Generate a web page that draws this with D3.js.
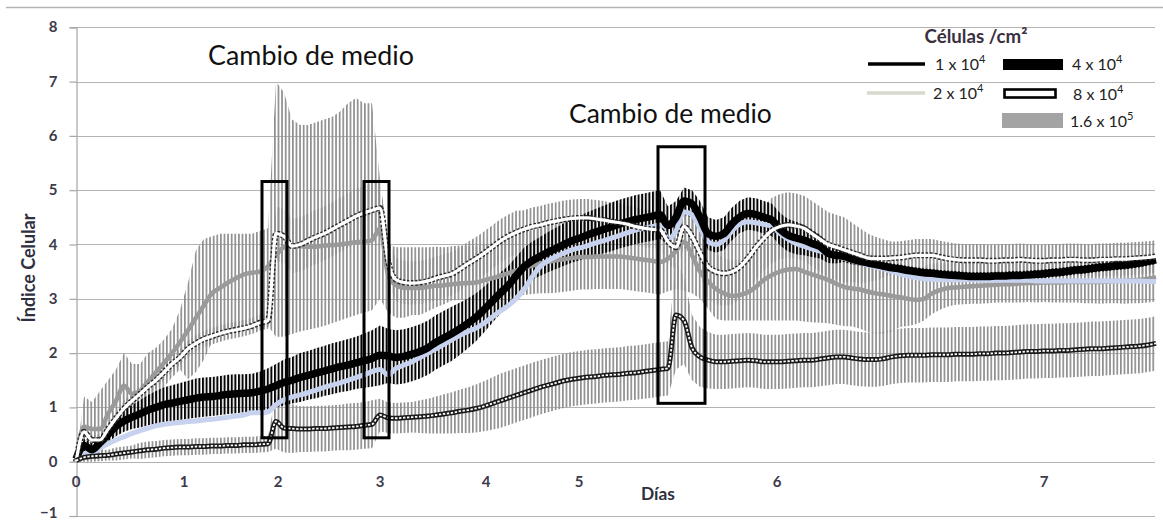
<!DOCTYPE html>
<html><head><meta charset="utf-8">
<script src="https://cdn.jsdelivr.net/npm/d3@7"></script>
<style>body{margin:0;background:#fff} svg{display:block}</style>
</head><body><svg id="c" width="1163" height="522"></svg>
<script>
// ---------- data (measurement index 0..135, equally spaced like an Excel category axis) ----------
const dayTickLabels = ["0","1","2","3","4","5","6","7"];
const dayTickIndex  = [0, 13.5, 25.25, 38, 51.25, 62.875, 87.625, 121];
const yTicks = [-1,0,1,2,3,4,5,6,7,8];

// 1.6 x 10^5 (grey) mean, upper and lower error
const s160 = [0.0,0.65,0.6,0.6,0.88,1.12,1.4,1.25,1.3,1.48,
 1.65,1.82,2.0,2.2,2.42,2.65,2.88,3.1,3.2,3.3,
 3.38,3.45,3.48,3.5,3.6,3.8,3.95,3.97,3.97,3.96,
 3.96,3.98,3.99,4.0,4.02,4.04,4.05,4.08,4.3,3.45,
 3.25,3.2,3.2,3.2,3.22,3.24,3.25,3.27,3.28,3.29,
 3.3,3.34,3.38,3.42,3.47,3.52,3.57,3.61,3.65,3.68,
 3.71,3.73,3.75,3.77,3.77,3.78,3.78,3.78,3.78,3.76,
 3.74,3.72,3.7,3.68,3.74,3.88,4.05,3.8,3.5,3.32,
 3.18,3.1,3.05,3.07,3.12,3.22,3.35,3.44,3.5,3.54,
 3.55,3.5,3.45,3.4,3.35,3.28,3.22,3.19,3.17,3.13,
 3.1,3.08,3.05,3.03,3.0,2.98,3.0,3.1,3.16,3.2,
 3.21,3.22,3.23,3.24,3.25,3.26,3.27,3.27,3.28,3.29,
 3.29,3.3,3.3,3.3,3.31,3.31,3.31,3.31,3.31,3.32,
 3.33,3.33,3.34,3.35,3.37,3.4];
const s160Hi = [0,0.55,0.5,0.7,0.62,0.58,0.6,0.55,0.5,0.52,
 0.45,0.43,0.45,0.6,0.88,1.25,1.22,1.05,1.0,0.9,
 0.82,0.75,0.72,0.75,0.7,3.2,2.85,2.33,2.23,2.24,
 2.29,2.32,2.36,2.45,2.58,2.66,2.55,2.52,0.9,0.55,
 0.7,0.75,0.75,0.75,0.73,0.72,0.7,0.7,0.7,0.68,
 0.67,0.66,0.65,0.65,0.65,0.65,0.65,0.65,0.65,0.65,
 0.65,0.65,0.65,0.65,0.65,0.65,0.65,0.65,0.65,0.65,
 0.65,0.65,0.65,0.65,0.7,0.8,0.8,0.8,0.7,0.65,
 0.65,0.65,0.65,0.65,0.65,0.65,0.65,0.65,0.65,0.65,
 0.65,0.65,0.65,0.65,0.65,0.7,0.7,0.7,0.7,0.7,
 0.7,0.7,0.7,0.65,0.6,0.6,0.6,0.55,0.5,0.45,
 0.45,0.45,0.45,0.45,0.45,0.45,0.45,0.45,0.45,0.45,
 0.45,0.45,0.45,0.45,0.45,0.45,0.45,0.45,0.45,0.45,
 0.45,0.45,0.45,0.45,0.45,0.45];
const s160Lo = [0,0.55,0.5,0.5,0.5,0.5,0.55,0.5,0.45,0.45,
 0.45,0.45,0.45,0.5,0.9,1.0,1.0,0.9,0.85,0.9,
 0.95,1.0,1.05,1.05,1.1,1.5,1.65,1.62,1.57,1.53,
 1.5,1.48,1.44,1.4,1.37,1.34,1.3,1.29,1.3,0.7,
 0.6,0.55,0.5,0.5,0.45,0.4,0.35,0.3,0.3,0.3,
 0.3,0.32,0.35,0.38,0.42,0.46,0.5,0.52,0.55,0.58,
 0.6,0.6,0.6,0.6,0.6,0.6,0.6,0.6,0.6,0.6,
 0.6,0.6,0.6,0.6,0.6,0.7,0.9,0.7,0.5,0.5,
 0.55,0.5,0.45,0.47,0.52,0.62,0.75,0.84,0.9,0.94,
 0.95,0.92,0.88,0.84,0.8,0.76,0.72,0.7,0.72,0.74,
 0.75,0.72,0.65,0.55,0.5,0.45,0.4,0.38,0.36,0.34,
 0.32,0.32,0.32,0.33,0.33,0.33,0.34,0.34,0.35,0.35,
 0.36,0.36,0.37,0.37,0.38,0.38,0.39,0.39,0.4,0.4,
 0.41,0.42,0.42,0.43,0.44,0.45];

// 4 x 10^4 (thick black)
const s40 = [0.05,0.3,0.22,0.35,0.5,0.65,0.75,0.82,0.88,0.95,
 1.0,1.05,1.08,1.11,1.14,1.17,1.19,1.2,1.22,1.24,
 1.25,1.26,1.27,1.3,1.34,1.4,1.46,1.5,1.55,1.59,
 1.63,1.67,1.71,1.75,1.78,1.82,1.86,1.9,1.96,1.95,
 1.92,1.94,1.98,2.03,2.1,2.2,2.28,2.36,2.45,2.55,
 2.66,2.8,2.95,3.1,3.24,3.42,3.59,3.7,3.78,3.86,
 3.93,4.0,4.07,4.12,4.18,4.23,4.28,4.33,4.38,4.42,
 4.46,4.49,4.52,4.55,4.35,4.5,4.8,4.75,4.5,4.2,
 4.15,4.2,4.38,4.51,4.57,4.55,4.5,4.45,4.28,4.17,
 4.12,4.08,4.02,3.96,3.84,3.8,3.78,3.73,3.69,3.66,
 3.63,3.6,3.57,3.55,3.52,3.5,3.48,3.47,3.45,3.44,
 3.43,3.42,3.41,3.41,3.41,3.42,3.42,3.43,3.43,3.44,
 3.45,3.46,3.48,3.49,3.51,3.53,3.54,3.56,3.58,3.59,
 3.61,3.62,3.64,3.66,3.69,3.72];
const s40Err = [0,0.12,0.12,0.12,0.15,0.18,0.2,0.22,0.25,0.28,
 0.3,0.32,0.33,0.34,0.35,0.36,0.36,0.36,0.36,0.36,
 0.36,0.35,0.35,0.36,0.38,0.4,0.42,0.43,0.45,0.45,
 0.46,0.46,0.47,0.47,0.48,0.48,0.5,0.52,0.55,0.5,
 0.5,0.5,0.5,0.5,0.5,0.5,0.5,0.5,0.48,0.46,
 0.44,0.42,0.4,0.38,0.36,0.35,0.35,0.35,0.36,0.37,
 0.38,0.39,0.4,0.41,0.42,0.43,0.44,0.45,0.45,0.45,
 0.45,0.45,0.45,0.45,0.35,0.3,0.25,0.25,0.3,0.3,
 0.3,0.3,0.3,0.3,0.3,0.3,0.3,0.3,0.3,0.3,
 0.3,0.28,0.25,0.22,0.18,0.15,0.1,0.1,0.08,0.08,
 0.08,0.08,0.08,0.08,0.08,0.08,0.08,0.08,0.08,0.08,
 0.08,0.08,0.08,0.08,0.08,0.08,0.08,0.08,0.08,0.08,
 0.08,0.08,0.08,0.08,0.08,0.08,0.08,0.08,0.08,0.08,
 0.08,0.08,0.08,0.08,0.08,0.08];

// 8 x 10^4 (white with dark outline)
const s80 = [0.0,0.55,0.4,0.4,0.6,0.8,0.98,1.12,1.25,1.38,
 1.5,1.65,1.8,1.92,2.08,2.18,2.26,2.31,2.36,2.4,
 2.43,2.46,2.5,2.56,2.6,4.2,4.15,3.97,4.0,4.07,
 4.14,4.2,4.28,4.36,4.44,4.52,4.58,4.63,4.67,3.7,
 3.35,3.3,3.29,3.3,3.33,3.38,3.42,3.46,3.55,3.65,
 3.74,3.84,3.95,4.06,4.15,4.22,4.28,4.33,4.36,4.4,
 4.43,4.46,4.48,4.49,4.49,4.47,4.45,4.42,4.4,4.37,
 4.33,4.3,4.28,4.27,4.05,3.95,4.33,4.15,3.85,3.59,
 3.5,3.47,3.5,3.59,3.75,3.95,4.12,4.26,4.33,4.36,
 4.34,4.3,4.2,4.1,4.0,3.95,3.9,3.85,3.8,3.75,
 3.74,3.74,3.75,3.76,3.78,3.8,3.8,3.8,3.77,3.74,
 3.72,3.71,3.71,3.71,3.7,3.7,3.71,3.71,3.72,3.71,
 3.7,3.7,3.71,3.71,3.72,3.72,3.71,3.71,3.72,3.72,
 3.73,3.73,3.74,3.75,3.76,3.78];
const s80Err = [0,0.1,0.1,0.1,0.12,0.12,0.15,0.15,0.15,0.15,
 0.15,0.15,0.15,0.15,0.15,0.15,0.15,0.15,0.15,0.15,
 0.15,0.15,0.15,0.15,0.15,0.5,0.5,0.5,0.5,0.5,
 0.5,0.5,0.5,0.5,0.5,0.5,0.5,0.5,0.5,0.4,
 0.4,0.4,0.4,0.4,0.4,0.4,0.4,0.4,0.4,0.4,
 0.4,0.4,0.4,0.4,0.4,0.4,0.35,0.35,0.35,0.35,
 0.35,0.35,0.35,0.35,0.35,0.35,0.35,0.35,0.35,0.35,
 0.35,0.35,0.35,0.35,0.4,0.4,0.4,0.4,0.4,0.6,
 0.6,0.6,0.6,0.6,0.6,0.6,0.6,0.6,0.6,0.6,
 0.6,0.6,0.6,0.6,0.6,0.6,0.6,0.55,0.5,0.45,
 0.4,0.35,0.3,0.3,0.3,0.3,0.3,0.3,0.3,0.3,
 0.3,0.3,0.3,0.3,0.3,0.3,0.3,0.3,0.3,0.3,
 0.3,0.3,0.3,0.3,0.3,0.3,0.3,0.3,0.3,0.3,
 0.3,0.3,0.3,0.3,0.3,0.3];

// 2 x 10^4 (light line)
const s20 = [0.0,0.15,0.15,0.25,0.33,0.4,0.46,0.52,0.57,0.62,
 0.66,0.69,0.71,0.72,0.74,0.75,0.77,0.78,0.8,0.82,
 0.84,0.86,0.9,0.9,0.92,1.05,1.14,1.19,1.23,1.27,
 1.32,1.37,1.41,1.45,1.5,1.55,1.6,1.66,1.7,1.6,
 1.72,1.78,1.84,1.92,2.0,2.08,2.16,2.25,2.33,2.4,
 2.46,2.55,2.66,2.77,2.87,3.0,3.17,3.4,3.59,3.7,
 3.78,3.84,3.9,3.94,3.98,4.03,4.07,4.12,4.17,4.22,
 4.27,4.3,4.33,4.36,4.1,4.25,4.6,4.55,4.3,4.05,
 4.0,4.08,4.25,4.38,4.42,4.4,4.37,4.33,4.2,4.1,
 4.02,3.97,3.92,3.88,3.84,3.79,3.75,3.7,3.66,3.62,
 3.58,3.55,3.5,3.46,3.42,3.39,3.37,3.36,3.35,3.35,
 3.35,3.35,3.35,3.34,3.34,3.34,3.34,3.34,3.34,3.34,
 3.33,3.33,3.33,3.33,3.33,3.33,3.33,3.33,3.33,3.33,
 3.33,3.33,3.33,3.33,3.32,3.32];

// 1 x 10^4 (black line with hollow markers)
const s10 = [0.02,0.08,0.1,0.11,0.12,0.14,0.16,0.18,0.2,0.22,
 0.23,0.25,0.26,0.27,0.27,0.28,0.28,0.29,0.29,0.3,
 0.3,0.31,0.31,0.32,0.33,0.74,0.62,0.61,0.6,0.6,
 0.61,0.61,0.62,0.63,0.64,0.65,0.67,0.69,0.86,0.81,
 0.8,0.81,0.82,0.83,0.84,0.86,0.88,0.9,0.93,0.95,
 0.98,1.02,1.07,1.12,1.17,1.22,1.27,1.32,1.37,1.41,
 1.45,1.49,1.52,1.54,1.56,1.57,1.59,1.6,1.61,1.63,
 1.64,1.66,1.68,1.7,1.72,2.7,2.6,2.1,1.93,1.87,
 1.84,1.84,1.85,1.86,1.87,1.86,1.84,1.84,1.84,1.85,
 1.86,1.87,1.87,1.89,1.91,1.93,1.93,1.91,1.89,1.88,
 1.88,1.9,1.93,1.95,1.96,1.96,1.96,1.97,1.97,1.97,
 1.98,1.98,1.98,1.99,1.99,2.0,2.0,2.01,2.02,2.03,
 2.03,2.04,2.04,2.05,2.05,2.06,2.07,2.08,2.08,2.09,
 2.1,2.11,2.12,2.13,2.15,2.18];
const s10Err = [0.03,0.08,0.1,0.1,0.1,0.12,0.12,0.12,0.15,0.15,
 0.15,0.15,0.15,0.15,0.15,0.15,0.15,0.15,0.15,0.15,
 0.15,0.15,0.15,0.15,0.15,0.5,0.45,0.45,0.42,0.42,
 0.42,0.42,0.42,0.42,0.43,0.43,0.43,0.44,0.3,0.28,
 0.28,0.28,0.28,0.3,0.32,0.34,0.36,0.38,0.4,0.42,
 0.44,0.46,0.48,0.5,0.5,0.5,0.5,0.5,0.5,0.5,
 0.5,0.5,0.5,0.5,0.5,0.5,0.5,0.5,0.5,0.5,
 0.5,0.5,0.5,0.5,0.5,1.0,0.8,0.6,0.55,0.52,
 0.5,0.5,0.5,0.5,0.5,0.5,0.5,0.5,0.5,0.5,
 0.5,0.5,0.5,0.5,0.5,0.5,0.5,0.5,0.5,0.5,
 0.5,0.5,0.5,0.5,0.5,0.5,0.5,0.5,0.5,0.5,
 0.5,0.5,0.5,0.5,0.5,0.5,0.5,0.5,0.5,0.5,
 0.5,0.5,0.5,0.5,0.5,0.5,0.5,0.5,0.5,0.5,
 0.5,0.5,0.5,0.5,0.5,0.5];

// annotations (index / value units)
const boxX0 = [23.25, 36, 72.75];
const boxX1 = [26.375, 39.125, 78.625];
const boxYlo = [0.44, 0.44, 1.075];
const boxYhi = [5.16, 5.16, 5.8];
const noteText = ["Cambio de medio", "Cambio de medio"];
const noteX = [29.375, 74.3];
const noteY = [7.31, 6.24];

const legendTitle = "Células /cm²";
const legendBase = ["1 x 10", "4 x 10", "2 x 10", "8 x 10", "1.6 x 10"];
const legendExp  = ["4", "4", "4", "4", "5"];

// ---------- drawing ----------
const svg = d3.select("#c");
const FONT = "Lato, 'Open Sans', sans-serif";
const x = d3.scaleLinear().domain([0, s160.length - 1]).range([76, 1156]);
const y = d3.scaleLinear().domain([-1, 8]).range([516, 27.3]);
const gridRight = 1155;

// stripe patterns that render the dense vertical error bars
const defs = svg.append("defs");
function stripes(id, color, w, pitch) {
  const p = defs.append("pattern").attr("id", id).attr("patternUnits", "userSpaceOnUse")
    .attr("width", pitch).attr("height", 10).attr("x", 76);
  p.append("rect").attr("x", 0).attr("y", 0).attr("width", w).attr("height", 10).attr("fill", color);
}
stripes("grayBars", "#8e8e8e", 1.7, 3.6);
stripes("blackBars", "#050505", 2.0, 3.6);

// frame line at the top
svg.append("line").attr("x1", 6).attr("x2", 1163).attr("y1", 7.5).attr("y2", 7.5)
  .attr("stroke", "#b3b3b3").attr("stroke-width", 1.3);

// gridlines
svg.append("g").selectAll("line").data(yTicks).join("line")
  .attr("x1", 76).attr("x2", gridRight)
  .attr("y1", d => Math.round(y(d)) + 0.5).attr("y2", d => Math.round(y(d)) + 0.5)
  .attr("stroke", "#b3b3b3").attr("stroke-width", 1.2);

// y axis
const yAxis = d3.axisLeft(y).tickValues(yTicks).tickSize(7).tickFormat(d3.format("d"));
const gy = svg.append("g").attr("transform", "translate(76.5,0)").call(yAxis);
gy.attr("font-size", null).attr("font-family", null);
gy.select(".domain").attr("stroke", "#a6a6a6").attr("stroke-width", 1.2);
gy.selectAll(".tick line").attr("stroke", "#a6a6a6").attr("stroke-width", 1.2);
gy.selectAll(".tick text").attr("x", -19).attr("dy", d => d === -1 ? "0.08em" : "0.3em")
  .style("font-family", FONT).style("font-weight", "bold").style("font-size", "15px")
  .attr("fill", "#3b3b4a");

// x tick labels
svg.append("g").selectAll("text").data(dayTickLabels).join("text")
  .attr("x", (d, i) => x(dayTickIndex[i])).attr("y", y(0) + 25.5)
  .attr("text-anchor", "middle").style("font-family", FONT).style("font-weight", "bold")
  .style("font-size", "15px").attr("fill", "#3b3b4a").text(d => d);

// error bands (drawn as dense vertical bars)
function errBand(mean, hi, lo, pat) {
  const a = d3.area().x((d, i) => x(i)).y0((d, i) => y(d - lo[i])).y1((d, i) => y(d + hi[i]));
  svg.append("path").datum(mean).attr("d", a).attr("fill", `url(#${pat})`);
}
errBand(s160, s160Hi, s160Lo, "grayBars");
errBand(s80, s80Err, s80Err, "grayBars");
errBand(s10, s10Err, s10Err, "grayBars");
errBand(s40, s40Err, s40Err, "blackBars");

const line = d3.line().x((d, i) => x(i)).y(d => y(d)).curve(d3.curveMonotoneX);
function path(data, color, width, dash) {
  const p = svg.append("path").datum(data).attr("d", line).attr("fill", "none")
    .attr("stroke", color).attr("stroke-width", width).attr("stroke-linejoin", "round");
  if (dash) p.attr("stroke-dasharray", dash);
  return p;
}
path(s160, "#9a9a9a", 4.5);
path(s20, "#c7d3ee", 5);
path(s40, "#000", 7.5);
path(s80, "#2a2a2a", 6, "2.5,1.8");
path(s80, "#ffffff", 3.2);
path(s10, "#1a1a1a", 5);
path(s10, "#ffffff", 1.8, "2.4,1.6");

// annotation boxes
svg.append("g").selectAll("rect").data(boxX0).join("rect")
  .attr("x", (d, i) => x(d)).attr("width", (d, i) => x(boxX1[i]) - x(d))
  .attr("y", (d, i) => y(boxYhi[i])).attr("height", (d, i) => y(boxYlo[i]) - y(boxYhi[i]))
  .attr("fill", "none").attr("stroke", "#000").attr("stroke-width", 3);

function fit(sel, w) {
  const n = sel.node(); const cur = n.getComputedTextLength();
  const fs = parseFloat(sel.attr("font-size"));
  sel.attr("font-size", fs * w / cur);
}
const noteW = [206, 203];
noteText.forEach((t, i) => {
  const s = svg.append("text").attr("x", x(noteX[i])).attr("y", y(noteY[i]))
    .attr("text-anchor", "middle").attr("font-family", FONT).attr("font-size", 22)
    .attr("fill", "#111").text(t);
  fit(s, noteW[i]);
});

// axis titles
const dias = svg.append("text").attr("x", 658).attr("y", 500).attr("text-anchor", "middle")
  .attr("font-family", FONT).attr("font-weight", "bold").attr("font-size", 15)
  .attr("fill", "#2f2f3f").text("Días");
fit(dias, 34);
const yt = svg.append("text").attr("transform", "translate(35,268) rotate(-90)")
  .attr("text-anchor", "middle").attr("font-family", FONT).attr("font-weight", "bold")
  .attr("font-size", 13).attr("fill", "#2f2f3f").text("Índice Celular");
fit(yt, 109);

// legend
const lt = svg.append("text").attr("x", 976).attr("y", 43).attr("text-anchor", "middle")
  .attr("font-family", FONT).attr("font-weight", "bold").attr("font-size", 15)
  .attr("fill", "#3a3040").text(legendTitle);
fit(lt, 103);
const lg = svg.append("g");
lg.append("line").attr("x1", 868).attr("x2", 925).attr("y1", 64).attr("y2", 64)
  .attr("stroke", "#000").attr("stroke-width", 3.5);
lg.append("rect").attr("x", 1003).attr("y", 59).attr("width", 60).attr("height", 11).attr("fill", "#000");
lg.append("line").attr("x1", 867).attr("x2", 925).attr("y1", 93).attr("y2", 93)
  .attr("stroke", "#d9d8cf").attr("stroke-width", 3.5);
lg.append("rect").attr("x", 1004.5).attr("y", 89.5).attr("width", 51).attr("height", 8)
  .attr("fill", "#fff").attr("stroke", "#000").attr("stroke-width", 2.6);
lg.append("rect").attr("x", 1002).attr("y", 113).attr("width", 61).attr("height", 15).attr("fill", "#a3a3a3");
const labX = [935, 1072, 933, 1073, 1070];
const labY = [70, 70, 99, 100, 127];
legendBase.forEach((b, i) => {
  const t = lg.append("text").attr("x", labX[i]).attr("y", labY[i]).attr("font-family", FONT)
    .attr("font-size", 16).attr("fill", "#222");
  t.append("tspan").text(b);
  t.append("tspan").attr("dy", -7).attr("font-size", 11).text(legendExp[i]);
});
</script></body></html>
